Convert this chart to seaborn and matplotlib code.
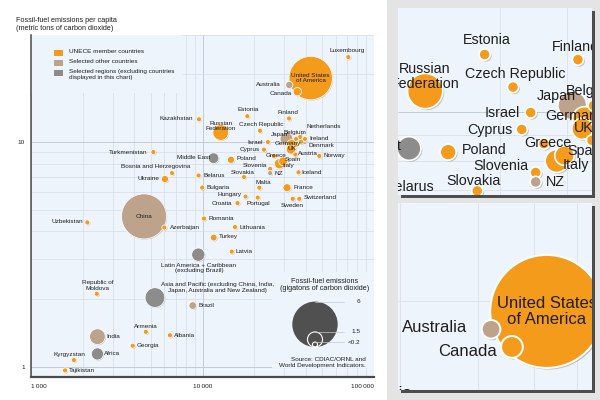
import matplotlib

matplotlib.use("Agg")
import matplotlib.pyplot as plt
import numpy as np
import pandas as pd
import seaborn as sns
from matplotlib.patches import Rectangle
from matplotlib.ticker import FixedLocator, NullFormatter
from matplotlib.transforms import offset_copy

sns.set_theme(style="white")
plt.rcParams["font.family"] = ["Liberation Sans", "DejaVu Sans"]

ORANGE, TAN, GREY, DARK = "#f59b1c", "#bda38b", "#8c8c8c", "#505050"
BG, PANEL, INK = "#eef4fb", "#e4e4e4", "#1e1e1e"
FS = 4.6

# ---- values -------------------------------------------------------------
countries = [
    "Luxembourg", "United States of America", "Australia", "Canada", "Estonia",
    "Finland", "Kazakhstan", "Russian Federation", "Czech Republic", "Japan",
    "Belgium", "Netherlands", "Ireland", "Denmark", "Germany", "United Kingdom",
    "Israel", "Cyprus", "Greece", "Austria", "Spain", "Italy", "Norway", "Poland",
    "Middle East", "Slovenia", "New Zealand", "Iceland", "Slovakia", "Belarus",
    "Bulgaria", "Malta", "France", "Hungary", "Portugal", "Switzerland", "Sweden",
    "Croatia", "Romania", "Lithuania", "Turkey", "Latvia",
    "Latin America + Caribbean", "Turkmenistan", "Bosnia and Herzegovina",
    "Ukraine", "China", "Uzbekistan", "Azerbaijan", "Republic of Moldova",
    "Asia and Pacific", "Brazil", "Armenia", "Albania", "India", "Georgia",
    "Kyrgyzstan", "Africa", "Tajikistan",
]
# U = UNECE member country, O = selected other country, R = selected region
group = [
    "U", "U", "O", "U", "U", "U", "U", "U", "U", "O",
    "U", "U", "U", "U", "U", "U", "U", "U", "U", "U", "U", "U", "U", "U",
    "R", "U", "O", "U", "U", "U", "U", "U", "U", "U", "U", "U", "U",
    "U", "U", "U", "U", "U", "R", "U", "U", "U", "O", "U", "U", "U",
    "R", "O", "U", "U", "O", "U", "U", "R", "U",
]
gdp_pc = [  # GDP per capita (PPP $)
    70800, 42750, 32070, 35720, 18250, 31950, 9540, 12770, 21640, 30890,
    35100, 37030, 39600, 37520, 33250, 32810, 24060, 22800, 26050, 34760,
    29470, 28120, 47980, 14660, 11590, 24790, 24790, 36290, 17460, 9480,
    9960, 21440, 31100, 17810, 20980, 36680, 33570, 16000, 10200, 15470,
    11620, 14800, 9450, 5170, 6640, 6040, 4560, 2130, 5990, 2420,
    5280, 8770, 4670, 6460, 2440, 3920, 1780, 2440, 1580,
]
co2_pc = [  # fossil-fuel emissions per capita (t CO2)
    23.8, 19.2, 17.9, 16.7, 13.0, 12.7, 12.6, 11.0, 11.2, 10.3,
    10.3, 10.5, 10.3, 10.0, 9.7, 9.26, 9.97, 9.23, 8.65, 8.78,
    8.19, 7.99, 8.65, 8.32, 8.46, 7.58, 7.26, 7.32, 6.97, 7.08,
    6.26, 6.25, 6.25, 5.71, 5.65, 5.58, 5.58, 5.34, 4.56, 4.18,
    3.75, 3.25, 3.15, 9.0, 7.26, 6.83, 4.66, 4.38, 4.16, 2.11,
    2.03, 1.87, 1.43, 1.38, 1.36, 1.24, 1.07, 1.14, 0.963,
]
co2_total = [  # total fossil-fuel emissions (Gt CO2)
    0.1, 5.7, 0.45, 0.6, 0.1, 0.1, 0.2, 1.6, 0.12, 1.2,
    0.12, 0.18, 0.1, 0.1, 0.9, 0.75, 0.1, 0.1, 0.1, 0.1,
    0.65, 0.85, 0.1, 0.45, 0.9, 0.1, 0.1, 0.1, 0.1, 0.1,
    0.1, 0.1, 0.55, 0.1, 0.1, 0.1, 0.1, 0.1, 0.1, 0.1,
    0.4, 0.1, 1.25, 0.1, 0.1, 0.45, 5.95, 0.12, 0.1, 0.1,
    2.15, 0.5, 0.1, 0.1, 1.6, 0.1, 0.1, 1.1, 0.1,
]

group_names = {"U": "UNECE member countries", "O": "Selected other countries",
               "R": "Selected regions (excluding countries\ndisplayed in this chart)"}
x_ticks = [1000, 10000, 100000]
x_tick_labels = ["1\u2009000", "10\u2009000", "100\u2009000"]
y_ticks = [1, 10]
y_tick_labels = ["1", "10"]
size_key = [6, 1.5, 0.2]
size_key_labels = ["6", "1.5", "<0.2"]

# ---- label placement (pixel offsets from the bubble centre, main scale) --
LABELS = {
    "Luxembourg": ("Luxembourg", -1, 6.5, "center"),
    "United States of America": ("United States\nof America", 0, 0, "center"),
    "Australia": ("Australia", -9, 0.7, "right"),
    "Canada": ("Canada", -5.6, -1.7, "right"),
    "Estonia": ("Estonia", 1, 6.7, "center"),
    "Finland": ("Finland", -1, 5.5, "center"),
    "Kazakhstan": ("Kazakhstan", -6, 0.5, "right"),
    "Russian Federation": ("Russian\nFederation", 0, 6.5, "center"),
    "Czech Republic": ("Czech Republic", 1, 6, "center"),
    "Japan": ("Japan", -7.3, 4, "center"),
    "Belgium": ("Belgium", -1, 6.5, "center"),
    "Netherlands": ("Netherlands", 6, 10.5, "left"),
    "Ireland": ("Ireland", 4.5, 0, "left"),
    "Denmark": ("Denmark", 8, -4, "left"),
    "Germany": ("Germany", -4.5, 1, "center"),
    "United Kingdom": ("UK", 0.7, 0.5, "center"),
    "Israel": ("Israel", -5, 0, "right"),
    "Cyprus": ("Cyprus", -4, -0.3, "right"),
    "Greece": ("Greece", 1.8, 0.5, "center"),
    "Austria": ("Austria", 3, 1.5, "left"),
    "Spain": ("Spain", 9.5, 2, "center"),
    "Italy": ("Italy", 8.5, -1.7, "center"),
    "Norway": ("Norway", 4, 0, "left"),
    "Poland": ("Poland", 6, 0.8, "left"),
    "Middle East": ("Middle East", -3.5, 1, "right"),
    "Slovenia": ("Slovenia", -3.3, 2.9, "right"),
    "New Zealand": ("NZ", 4.6, 0, "left"),
    "Iceland": ("Iceland", 3.2, 0, "left"),
    "Slovakia": ("Slovakia", -1.7, 4.4, "center"),
    "Belarus": ("Belarus", 4.8, 0, "left"),
    "Bulgaria": ("Bulgaria", 4.5, 0, "left"),
    "Malta": ("Malta", 4, 5.7, "center"),
    "France": ("France", 6.3, 0, "left"),
    "Hungary": ("Hungary", -3.8, 1.7, "right"),
    "Portugal": ("Portugal", 0.6, -5.6, "center"),
    "Switzerland": ("Switzerland", 4, 1.7, "left"),
    "Sweden": ("Sweden", -0.7, -6.7, "center"),
    "Croatia": ("Croatia", -5.8, 0, "right"),
    "Romania": ("Romania", 5, 0, "left"),
    "Lithuania": ("Lithuania", 5, 0, "left"),
    "Turkey": ("Turkey", 5.6, 0.7, "left"),
    "Latvia": ("Latvia", 4.3, 0, "left"),
    "Latin America + Caribbean": ("Latin America + Caribbean\n(excluding Brazil)", 0.7, -13.3, "center"),
    "Turkmenistan": ("Turkmenistan", -5.6, 0, "right"),
    "Bosnia and Herzegovina": ("Bosnia and Herzegovina", -16.2, 6.3, "center"),
    "Ukraine": ("Ukraine", -5.7, 0.6, "right"),
    "China": ("China", 0, 0, "center"),
    "Uzbekistan": ("Uzbekistan", -4.6, 1, "right"),
    "Azerbaijan": ("Azerbaijan", 5.7, 0, "left"),
    "Republic of Moldova": ("Republic of\nMoldova", 0.6, 8.2, "center"),
    "Asia and Pacific": ("Asia and Pacific (excluding China, India,\nJapan, Australia and New Zealand)", 63, 10.2, "center"),
    "Brazil": ("Brazil", 5.6, 0, "left"),
    "Armenia": ("Armenia", 0, 5.6, "center"),
    "Albania": ("Albania", 4, 0, "left"),
    "India": ("India", 9.4, 0, "left"),
    "Georgia": ("Georgia", 4, 0, "left"),
    "Kyrgyzstan": ("Kyrgyzstan", -5, 5.7, "center"),
    "Africa": ("Africa", 7, 0, "left"),
    "Tajikistan": ("Tajikistan", 4, 0, "left"),
}
LEADERS = {"Netherlands": (0, 0), "Denmark": (0, 0.6)}

PALETTE = {group_names["U"]: ORANGE, group_names["O"]: TAN, group_names["R"]: GREY}
R_MIN, R_MAX = 2.5, 22.7  # bubble radius (px) for <=0.2 Gt and for 6 Gt

df = pd.DataFrame({"name": countries, "group": [group_names[g] for g in group],
                   "gdp": gdp_pc, "co2": co2_pc, "gt": co2_total})
df = df.sort_values("gt", ascending=False, kind="stable").reset_index(drop=True)

MINOR = [k * 10.0 ** e for e in range(-1, 6) for k in range(2, 10)]
MAJOR = [10.0 ** e for e in range(-1, 6)]

# main axes frame, in pixels of the 600x400 picture
AX_L, AX_W, AX_B, AX_H = 31, 343, 377, 342.5


def radius(gt):
    f = np.clip((np.asarray(gt, float) - 0.2) / 5.8, 0, None)
    return R_MIN + (R_MAX - R_MIN) * f ** 0.93


def area(gt, scale=1.0):
    return (2 * radius(gt) * scale * 0.72) ** 2  # px -> pt at 100 dpi


def to_axes(px, py):
    return (px - AX_L) / AX_W, (AX_B - py) / AX_H


def draw_bubbles(ax, scale=1.0):
    shadow = offset_copy(ax.transData, fig=ax.figure, x=0.45 * scale,
                         y=-0.45 * scale, units="points")
    sns.scatterplot(data=df, x="gdp", y="co2", s=area(df["gt"], scale),
                    color="black", alpha=0.22, linewidth=0, legend=False,
                    transform=shadow, ax=ax)
    sns.scatterplot(data=df, x="gdp", y="co2", hue="group", palette=PALETTE,
                    s=area(df["gt"], scale), edgecolor="white",
                    linewidth=0.55 * scale, legend=False, ax=ax)
    ax.set_xscale("log")
    ax.set_yscale("log")
    ax.set_xlabel("")
    ax.set_ylabel("")
    ax.set_facecolor(BG)
    for axis in (ax.xaxis, ax.yaxis):
        axis.set_major_locator(FixedLocator(MAJOR))
        axis.set_minor_locator(FixedLocator(MINOR))
        axis.set_minor_formatter(NullFormatter())
    ax.set_axisbelow(True)
    ax.grid(True, which="major", color="#c4cbd5", lw=0.7)
    ax.grid(True, which="minor", color="#d6dde7", lw=0.5)

    for _, row in df.iterrows():
        text, dx, dy, ha = LABELS[row["name"]]
        arrow = None
        if row["name"] in LEADERS:
            arrow = dict(arrowstyle="-", color="#808080", lw=0.4 * scale,
                         shrinkA=0, shrinkB=1.5 * scale, relpos=LEADERS[row["name"]])
        ann = ax.annotate(text, (row["gdp"], row["co2"]),
                          xytext=(dx * scale, dy * scale), textcoords="offset pixels",
                          ha=ha, va="center", fontsize=FS * scale, color=INK,
                          linespacing=1.15, annotation_clip=False, clip_on=True,
                          arrowprops=arrow)
        if ann.arrow_patch is not None:
            ann.arrow_patch.set_clip_path(ax.patch)


fig = plt.figure(figsize=(6, 4), dpi=100)
fig.add_artist(Rectangle((387 / 600, 0), 213 / 600, 1, transform=fig.transFigure,
                         facecolor=PANEL, edgecolor="none", zorder=-3))

# ---- main chart -----------------------------------------------------------
ax = fig.add_axes([AX_L / 600, 1 - AX_B / 400, AX_W / 600, AX_H / 400])
draw_bubbles(ax, 1.0)
ax.set_xlim(1000, 100000)
ax.set_ylim(0.9, 30)
ax.set_xticks(x_ticks, labels=x_tick_labels)
ax.set_yticks(y_ticks, labels=y_tick_labels)
ax.tick_params(which="both", length=0, labelsize=FS, labelcolor=INK)
ax.tick_params(axis="x", pad=5)
ax.tick_params(axis="y", pad=4.5)
xl = ax.get_xticklabels()
xl[0].set_ha("left")
xl[-1].set_ha("right")
for side in ("top", "right"):
    ax.spines[side].set_visible(False)
ax.spines["left"].set(color="#4a4a4a", lw=1.1)
ax.spines["bottom"].set(color="#4a4a4a", lw=1.6)

# areas free of grid lines behind the two keys
for (x0, y0, x1, y1) in [(31, 93, 182, 34), (272, 368, 374, 272)]:
    ax.add_patch(Rectangle(to_axes(x0, y0), (x1 - x0) / AX_W, (y0 - y1) / AX_H,
                           transform=ax.transAxes, facecolor=BG, edgecolor="none",
                           zorder=0.8))

# colour key
for i, g in enumerate(["U", "O", "R"]):
    cy = 53.3 + 10 * i
    ax.add_patch(Rectangle(to_axes(54.3, cy + 2.9), 9 / AX_W, 5.8 / AX_H,
                           transform=ax.transAxes, facecolor=PALETTE[group_names[g]],
                           edgecolor="none", zorder=3))
    ax.text(*to_axes(69, cy - 3.9), group_names[g], transform=ax.transAxes,
            ha="left", va="top", fontsize=FS, color=INK, linespacing=1.2)

# bubble-size key
cx, base = 315, 347
for val, lab in zip(size_key, size_key_labels):
    r = float(radius(val))
    filled = val == max(size_key)
    ax.scatter(*to_axes(cx, base - r), s=area(val), transform=ax.transAxes,
               facecolor=DARK if filled else "none",
               edgecolor="none" if filled else "white", linewidth=0.8, zorder=4)
    top = base - 2 * r
    ax.plot([to_axes(cx, 0)[0], to_axes(344, 0)[0]], [to_axes(0, top)[1]] * 2,
            transform=ax.transAxes, color="#c8c8c8", lw=0.5, zorder=5)
    ax.text(*to_axes(360, top), lab, transform=ax.transAxes, ha="right",
            va="center", fontsize=FS, color=INK)
ax.text(*to_axes(325, 285), "Fossil-fuel emissions\n(gigatons of carbon dioxide)",
        transform=ax.transAxes, ha="center", va="center", fontsize=5.2,
        color=INK, linespacing=1.15)
ax.text(*to_axes(366, 362.2), "Source: CDIAC/ORNL and\nWorld Development Indicators.",
        transform=ax.transAxes, ha="right", va="center", fontsize=FS,
        color=INK, linespacing=1.2, multialignment="right")

fig.text(16 / 600, 1 - 17 / 400,
         "Fossil-fuel emissions per capita\n(metric tons of carbon dioxide)",
         ha="left", va="top", fontsize=5.2, color=INK, linespacing=1.15)

# ---- magnified insets -------------------------------------------------------
insets = [
    ((398, 8, 592, 195), 2.237, (10850, 34760), (6.84, 16.08)),
    ((398, 203, 592, 390), 2.6, (19840, 54000), (14.1, 29.4)),
]
for (x0, y0, x1, y1), scale, xlim, ylim in insets:
    rect = [x0 / 600, 1 - y1 / 400, (x1 - x0) / 600, (y1 - y0) / 400]
    fig.add_artist(Rectangle((rect[0] + 2.5 / 600, rect[1] - 2.5 / 400), rect[2], rect[3],
                             transform=fig.transFigure, facecolor="#4d4d4d",
                             edgecolor="none", zorder=-1))
    iax = fig.add_axes(rect)
    draw_bubbles(iax, scale)
    iax.set_xlim(*xlim)
    iax.set_ylim(*ylim)
    iax.tick_params(which="both", length=0, labelbottom=False, labelleft=False)
    for sp in iax.spines.values():
        sp.set_visible(False)

fig.savefig("out.png", dpi=100)
